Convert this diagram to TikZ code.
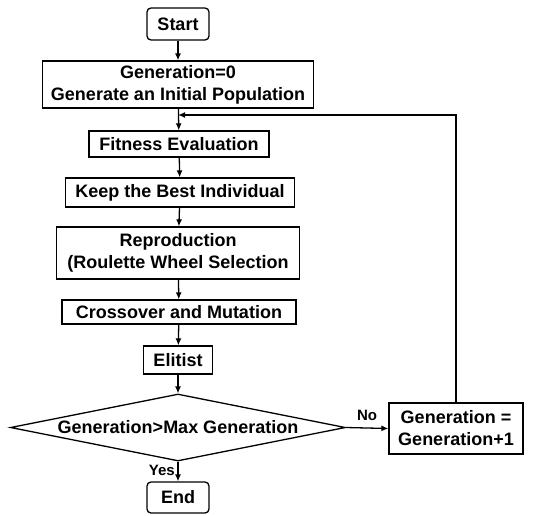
\documentclass[tikz,border=0pt]{standalone}
\usepackage{fontspec}
\setmainfont{Liberation Sans}
\usetikzlibrary{arrows.meta,shapes.geometric}
\tikzset{
	box/.style={draw, line width=1.3pt, align=center, inner sep=0pt, minimum height=#1},
	box/.default=26pt,
	term/.style={box=32pt, rounded corners=4pt, minimum width=62pt},
	decision/.style={draw, line width=1.3pt, diamond, aspect=5, inner sep=0pt, minimum width=335pt, minimum height=67pt},
	flow/.style={line width=1.3pt, -{Latex[length=7pt,width=6pt]}},
	tag/.style={font=\bfseries\fontsize{15}{17}\selectfont, inner sep=1pt}
}
\begin{document}
\begin{tikzpicture}[x=1pt,y=-1pt,font=\bfseries\fontsize{18}{22}\selectfont]
	\useasboundingbox (0,0) rectangle (534,515);
	% main column
	\node[term] (start) at (178,24) {Start};
	\node[box=47pt, minimum width=271pt] (init) at (178,84.5) {Generation=0\\Generate an Initial Population};
	\node[box=26pt, minimum width=180pt] (fit) at (179,144) {Fitness Evaluation};
	\node[box=29pt, minimum width=229pt] (keep) at (180,192.5) {Keep the Best Individual};
	\node[box=52pt, minimum width=243pt] (repro) at (178,253) {Reproduction\\(Roulette Wheel Selection};
	\node[box=24pt, minimum width=234pt] (cross) at (179,312) {Crossover and Mutation};
	\node[box=28pt, minimum width=69pt] (elit) at (178,360) {Elitist};
	\node[decision] (dec) at (178,427.5) {Generation>Max Generation};
	\node[term, minimum height=31pt] (end) at (178,497.5) {End};
	% loop back
	\node[box=51pt, minimum width=134pt] (incr) at (456,428.5) {Generation =\\Generation+1};
	\coordinate (join) at (178,115);

	\draw[flow] (start) -- (init);
	\draw[flow] (init) -- (fit);
	\draw[flow] (fit) -- (keep);
	\draw[flow] (keep) -- (repro);
	\draw[flow] (repro) -- (cross);
	\draw[flow] (cross) -- (elit);
	\draw[flow] (elit) -- (dec);
	\draw[flow] (dec) -- (end);
	\draw[flow] (dec.east) -- (incr.west);
	\draw[flow] (incr.north) |- (join);
	\node[tag, left] at (176,470) {Yes};
	\node[tag, above] at (367,422) {No};
\end{tikzpicture}
\end{document}
